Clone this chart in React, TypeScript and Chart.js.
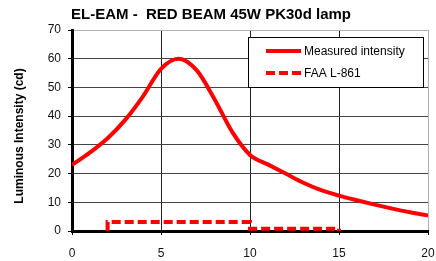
import React, { useEffect, useRef } from "react";
import { Chart, registerables } from "chart.js";

Chart.register(...registerables);

const titleText = "EL-EAM -  RED BEAM 45W PK30d lamp";
const yAxisTitle = "Luminous Intensity (cd)";

const measuredLabel = "Measured intensity";
const measuredX = [0, 1, 2, 3, 4, 5, 6, 7, 8, 9, 10, 11, 12, 13, 14, 15, 16, 17, 18, 19, 20];
const measuredY = [23, 27.3, 32.3, 38.8, 47, 56.5, 60, 56, 46, 34.5, 26.5, 23.2, 20, 16.8, 14.2, 12.3, 10.7, 9.2, 7.8, 6.5, 5.4];

const faaLabel = "FAA L-861";
const faaX = [2, 2, 10, 10, 15, 15];
const faaY = [0, 3.1, 3.1, 0.8, 0.8, 0];

const xTicks = [0, 5, 10, 15, 20];
const yTicks = [0, 10, 20, 30, 40, 50, 60, 70];

const FONT = "'Liberation Sans', Arial, sans-serif";

export default function App() {
  const ref = useRef<HTMLCanvasElement | null>(null);

  useEffect(() => {
    document.body.style.margin = "0";
    const canvas = ref.current;
    if (!canvas) return;

    const overlay = {
      id: "overlay",
      afterDraw(chart: any) {
        const ctx = chart.ctx as CanvasRenderingContext2D;
        ctx.save();
        // title
        ctx.fillStyle = "#000";
        ctx.font = `bold 15px ${FONT}`;
        ctx.textAlign = "left";
        ctx.textBaseline = "middle";
        ctx.fillText(titleText, 71, 15);
        // y title
        ctx.font = `bold 12px ${FONT}`;
        ctx.translate(20, 136);
        ctx.rotate(-Math.PI / 2);
        ctx.textAlign = "center";
        ctx.fillText(yAxisTitle, 0, 0);
        ctx.restore();

        // legend
        ctx.save();
        const bx = 248, by = 37, bw = 175, bh = 50;
        ctx.fillStyle = "#fff";
        ctx.fillRect(bx, by, bw, bh);
        ctx.strokeStyle = "#000";
        ctx.lineWidth = 1;
        ctx.strokeRect(bx + 0.5, by + 0.5, bw, bh);
        const ds = chart.data.datasets;
        const rows = [51, 73];
        ds.forEach((d: any, i: number) => {
          const y = rows[i];
          ctx.strokeStyle = d.borderColor;
          ctx.lineWidth = d.borderWidth;
          ctx.setLineDash(d.borderDash || []);
          ctx.lineCap = "butt";
          ctx.beginPath();
          ctx.moveTo(266, y);
          ctx.lineTo(301, y);
          ctx.stroke();
          ctx.setLineDash([]);
          ctx.fillStyle = "#000";
          ctx.font = `12px ${FONT}`;
          ctx.textAlign = "left";
          ctx.textBaseline = "middle";
          ctx.fillText(d.label, 304, y + 1);
        });
        ctx.restore();
      },
    };

    const chart = new Chart(canvas, {
      type: "line",
      data: {
        datasets: [
          {
            label: measuredLabel,
            data: measuredX.map((x, i) => ({ x, y: measuredY[i] })),
            borderColor: "#ff0000",
            borderWidth: 4,
            pointRadius: 0,
            cubicInterpolationMode: "monotone",
            fill: false,
          },
          {
            label: faaLabel,
            data: faaX.map((x, i) => ({ x, y: faaY[i] })),
            borderColor: "#ff0000",
            borderWidth: 4,
            borderDash: [9, 4],
            pointRadius: 0,
            tension: 0,
            fill: false,
          },
        ],
      },
      options: {
        responsive: false,
        animation: false,
        layout: { autoPadding: false, padding: { left: 0, right: 8, top: 30, bottom: 0 } },
        plugins: {
          legend: { display: false },
          title: { display: false },
          tooltip: { enabled: false },
        },
        scales: {
          x: {
            type: "linear",
            min: 0,
            max: 20,
            afterBuildTicks: (s: any) => {
              s.ticks = xTicks.map((v) => ({ value: v }));
            },
            afterFit: (s: any) => {
              s.height = 30;
              s.paddingLeft = 0;
              s.paddingRight = 0;
            },
            border: { color: "#000", width: 3 },
            grid: {
              color: (c: any) => (c.tick && c.tick.value === 20 ? "#b0b0b0" : "#222"),
              lineWidth: 1,
              tickLength: 4,
              tickColor: "#000",
            },
            ticks: {
              color: "#111",
              font: { family: FONT, size: 12 },
              padding: 11,
              maxRotation: 0,
            },
          },
          y: {
            type: "linear",
            min: 0,
            max: 70,
            afterBuildTicks: (s: any) => {
              s.ticks = yTicks.map((v) => ({ value: v }));
            },
            afterFit: (s: any) => {
              s.width = 72;
              s.paddingTop = 0;
              s.paddingBottom = 0;
            },
            border: { color: "#000", width: 3 },
            grid: {
              color: (c: any) => (c.tick && c.tick.value === 70 ? "#b0b0b0" : "#444"),
              lineWidth: 1,
              tickLength: 4,
              tickColor: "#000",
            },
            ticks: {
              color: "#111",
              font: { family: FONT, size: 12 },
              padding: 7,
            },
          },
        },
      },
      plugins: [overlay],
    } as any);

    return () => chart.destroy();
  }, []);

  return (
    <div style={{ position: "absolute", left: 0, top: 0, width: 436, height: 261 }}>
      <canvas ref={ref} width={436} height={261} style={{ width: 436, height: 261 }} />
    </div>
  );
}
